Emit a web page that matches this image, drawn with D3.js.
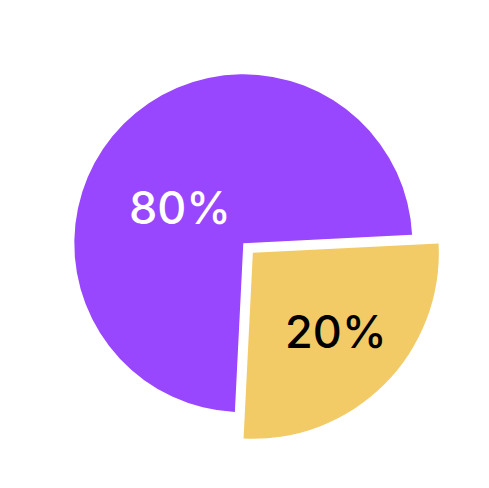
<!DOCTYPE html>
<html>
<head>
<meta charset="utf-8">
<script src="https://cdn.jsdelivr.net/npm/d3@7"></script>
<style>
  html, body { margin: 0; padding: 0; background: #ffffff; }
  svg { display: block; }
</style>
</head>
<body>
<svg id="chart" width="489" height="488"></svg>
<script>
// ---- data ----
const categories = ["Small share", "Large share"];
const labels = ["20%", "80%"];
// angular share of each wedge as drawn in the picture
const sliceShares = [26.6, 73.4];
const colors = ["#F2CB67", "#9946FF"];
const labelColors = ["#000000", "#ffffff"];

// ---- layout ----
const svg = d3.select("#chart");
const cx = 243.3, cy = 243.3;
const rMain = 169;
const rExploded = 186;
const explode = 13.5;
const deg = Math.PI / 180;

const pie = d3.pie()
  .sort(null)
  .value(d => d)
  .startAngle(87.1 * deg)
  .endAngle(447.1 * deg);

const arcs = pie(sliceShares);

const g = svg.append("g").attr("transform", `translate(${cx},${cy})`);

arcs.forEach((a, i) => {
  const exploded = i === 0;
  const r = exploded ? rExploded : rMain;
  const mid = (a.startAngle + a.endAngle) / 2;
  const off = exploded ? d3.pointRadial(mid, explode) : [0, 0];
  const arc = d3.arc().innerRadius(0).outerRadius(r);
  const sg = g.append("g").attr("transform", `translate(${off[0]},${off[1]})`);
  sg.append("path")
    .attr("d", arc(a))
    .attr("fill", colors[i]);
  // label placement
  const labelAngle = exploded ? mid - 1.5 * deg : mid - 15.6 * deg;
  const labelR = exploded ? 0.615 * r : 0.43 * r;
  const p = d3.pointRadial(labelAngle, labelR);
  sg.append("text")
    .attr("x", p[0])
    .attr("y", p[1])
    .attr("text-anchor", "middle")
    .attr("dominant-baseline", "central")
    .attr("font-family", "Inter, 'Noto Sans', sans-serif")
    .attr("font-weight", 500)
    .attr("font-size", 45)
    .attr("fill", labelColors[i])
    .text(labels[i]);
});
</script>
</body>
</html>
